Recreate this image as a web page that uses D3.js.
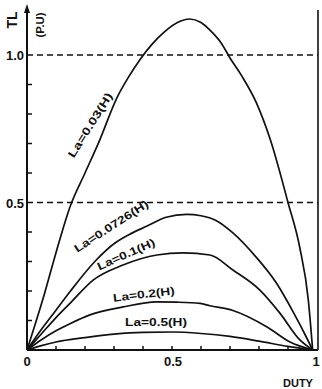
<!DOCTYPE html>
<html lang="en">
<head>
    <meta charset="UTF-8">
    <title>TL vs Duty</title>
    <style>
        body { margin: 0; background: #fff; }
        svg text { font-family: "Liberation Sans", Arial, sans-serif; font-weight: bold; fill: #111; }
    </style>
    <script src="https://d3js.org/d3.v7.min.js"></script>
</head>
<body>
<div id="chart"></div>
<script>
    // values, one duty/value pair of arrays per curve
    var duty003 = [0, 0.06, 0.1, 0.15, 0.2, 0.25, 0.31, 0.35, 0.39, 0.43, 0.47, 0.53, 0.56, 0.6, 0.63, 0.67, 0.7, 0.74, 0.79, 0.84, 0.9, 0.94, 0.97, 0.985];
    var tl003   = [0, 0.19, 0.33, 0.49, 0.6, 0.71, 0.855, 0.925, 0.985, 1.035, 1.075, 1.115, 1.122, 1.11, 1.085, 1.04, 0.99, 0.93, 0.84, 0.71, 0.5, 0.35, 0.17, 0];

    var duty0726 = [0, 0.05, 0.1, 0.15, 0.234, 0.3, 0.35, 0.414, 0.48, 0.55, 0.6, 0.65, 0.71, 0.79, 0.86, 0.92, 0.96, 0.985];
    var tl0726   = [0, 0.07, 0.135, 0.2, 0.3, 0.36, 0.39, 0.42, 0.45, 0.46, 0.455, 0.44, 0.397, 0.315, 0.227, 0.125, 0.05, 0];

    var duty01 = [0, 0.05, 0.1, 0.15, 0.228, 0.331, 0.448, 0.538, 0.631, 0.71, 0.803, 0.872, 0.941, 0.985];
    var tl01   = [0, 0.055, 0.11, 0.16, 0.237, 0.288, 0.322, 0.329, 0.322, 0.271, 0.203, 0.125, 0.034, 0];

    var duty02 = [0, 0.05, 0.1, 0.15, 0.217, 0.331, 0.448, 0.52, 0.597, 0.631, 0.71, 0.828, 0.907, 0.985];
    var tl02   = [0, 0.035, 0.065, 0.09, 0.119, 0.146, 0.163, 0.162, 0.158, 0.15, 0.134, 0.078, 0.027, 0];

    var duty05 = [0, 0.05, 0.1, 0.2, 0.3, 0.4, 0.5, 0.6, 0.7, 0.8, 0.9, 0.985];
    var tl05   = [0, 0.015, 0.027, 0.042, 0.054, 0.06, 0.061, 0.056, 0.046, 0.03, 0.012, 0];

    var curveNames = ["La=0.03(H)", "La=0.0726(H)", "La=0.1(H)", "La=0.2(H)", "La=0.5(H)"];
    var xTicks = [0.1, 0.2, 0.3, 0.4, 0.5, 0.6, 0.7, 0.8, 0.9];
    var yTicks = [0.1, 0.2, 0.3, 0.4, 0.6, 0.7, 0.8, 0.9];
    var dashedLevels = [0.5, 1.0];

    var width = 322;
    var height = 389;

    var x = d3.scaleLinear().domain([0, 1]).range([27, 317]);
    var y = d3.scaleLinear().domain([0, 1]).range([350, 55]);

    var svg = d3.select("#chart").append("svg")
        .attr("width", width)
        .attr("height", height);

    // dashed reference lines
    svg.selectAll(".ref")
        .data(dashedLevels)
        .enter()
        .append("line")
        .attr("x1", x(0))
        .attr("x2", 318)
        .attr("y1", d => y(d))
        .attr("y2", d => y(d))
        .attr("stroke", "#111")
        .attr("stroke-width", 1.6)
        .attr("stroke-dasharray", "6,4");

    // right frame line
    svg.append("line")
        .attr("x1", 318).attr("x2", 318)
        .attr("y1", 10).attr("y2", y(0))
        .attr("stroke", "#111")
        .attr("stroke-width", 1.6);

    // axes
    svg.append("line")
        .attr("x1", x(0)).attr("x2", x(0))
        .attr("y1", y(0)).attr("y2", 10)
        .attr("stroke", "#111").attr("stroke-width", 2);
    svg.append("path")
        .attr("d", "M" + x(0) + ",4 L" + (x(0) - 3) + ",13 L" + (x(0) + 3) + ",13 Z")
        .attr("fill", "#111");
    svg.append("line")
        .attr("x1", x(0)).attr("x2", 318)
        .attr("y1", y(0)).attr("y2", y(0))
        .attr("stroke", "#111").attr("stroke-width", 2);

    // tick marks (pointing inwards)
    svg.selectAll(".yt")
        .data(yTicks)
        .enter()
        .append("line")
        .attr("x1", x(0)).attr("x2", x(0) + 5)
        .attr("y1", d => y(d)).attr("y2", d => y(d))
        .attr("stroke", "#111").attr("stroke-width", 1.5);
    svg.selectAll(".xt")
        .data(xTicks)
        .enter()
        .append("line")
        .attr("x1", d => x(d)).attr("x2", d => x(d))
        .attr("y1", y(0)).attr("y2", y(0) - 4)
        .attr("stroke", "#111").attr("stroke-width", 1.5);

    // tick labels
    svg.append("text").attr("x", 24).attr("y", y(1) + 5).attr("text-anchor", "end").attr("font-size", 13).text("1.0");
    svg.append("text").attr("x", 24).attr("y", y(0.5) + 5).attr("text-anchor", "end").attr("font-size", 13).text("0.5");
    svg.append("text").attr("x", x(0)).attr("y", 366).attr("text-anchor", "middle").attr("font-size", 13).text("0");
    svg.append("text").attr("x", x(0.5) + 1).attr("y", 366).attr("text-anchor", "middle").attr("font-size", 13).text("0.5");
    svg.append("text").attr("x", 316).attr("y", 366).attr("text-anchor", "middle").attr("font-size", 13).text("1");
    svg.append("text").attr("x", 298).attr("y", 387).attr("text-anchor", "middle").attr("font-size", 11).text("DUTY");

    // axis title
    svg.append("text")
        .attr("transform", "translate(17,20) rotate(-90)")
        .attr("text-anchor", "middle")
        .attr("font-size", 14)
        .text("TL");
    svg.append("text")
        .attr("transform", "translate(44,25) rotate(-90)")
        .attr("text-anchor", "middle")
        .attr("font-size", 10)
        .attr("textLength", 25)
        .attr("lengthAdjust", "spacingAndGlyphs")
        .text("(P.U)");

    // curves
    var curves = [
        { duty: duty003, tl: tl003 },
        { duty: duty0726, tl: tl0726 },
        { duty: duty01, tl: tl01 },
        { duty: duty02, tl: tl02 },
        { duty: duty05, tl: tl05 }
    ];

    var line = d3.line()
        .x(d => x(d[0]))
        .y(d => y(d[1]))
        .curve(d3.curveMonotoneX);

    svg.selectAll(".curve")
        .data(curves)
        .enter()
        .append("path")
        .attr("d", c => line(c.duty.map((d, i) => [d, c.tl[i]])))
        .attr("fill", "none")
        .attr("stroke", "#111")
        .attr("stroke-width", 1.7);

    // curve labels, placed in data coordinates
    var labelSpots = [
        { d: 0.217, v: 0.763, rot: -58, len: 74 },
        { d: 0.29, v: 0.42, rot: -33, len: 86 },
        { d: 0.341, v: 0.325, rot: -24, len: 62 },
        { d: 0.403, v: 0.19, rot: -7, len: 62 },
        { d: 0.445, v: 0.095, rot: 0, len: 62 }
    ];

    svg.selectAll(".lab")
        .data(curveNames)
        .enter()
        .append("text")
        .attr("transform", (n, i) => "translate(" + x(labelSpots[i].d) + "," + y(labelSpots[i].v) + ") rotate(" + labelSpots[i].rot + ")")
        .attr("text-anchor", "middle")
        .attr("dominant-baseline", "central")
        .attr("font-size", 11)
        .attr("textLength", (n, i) => labelSpots[i].len)
        .attr("lengthAdjust", "spacingAndGlyphs")
        .text(n => n);
</script>
</body>
</html>
